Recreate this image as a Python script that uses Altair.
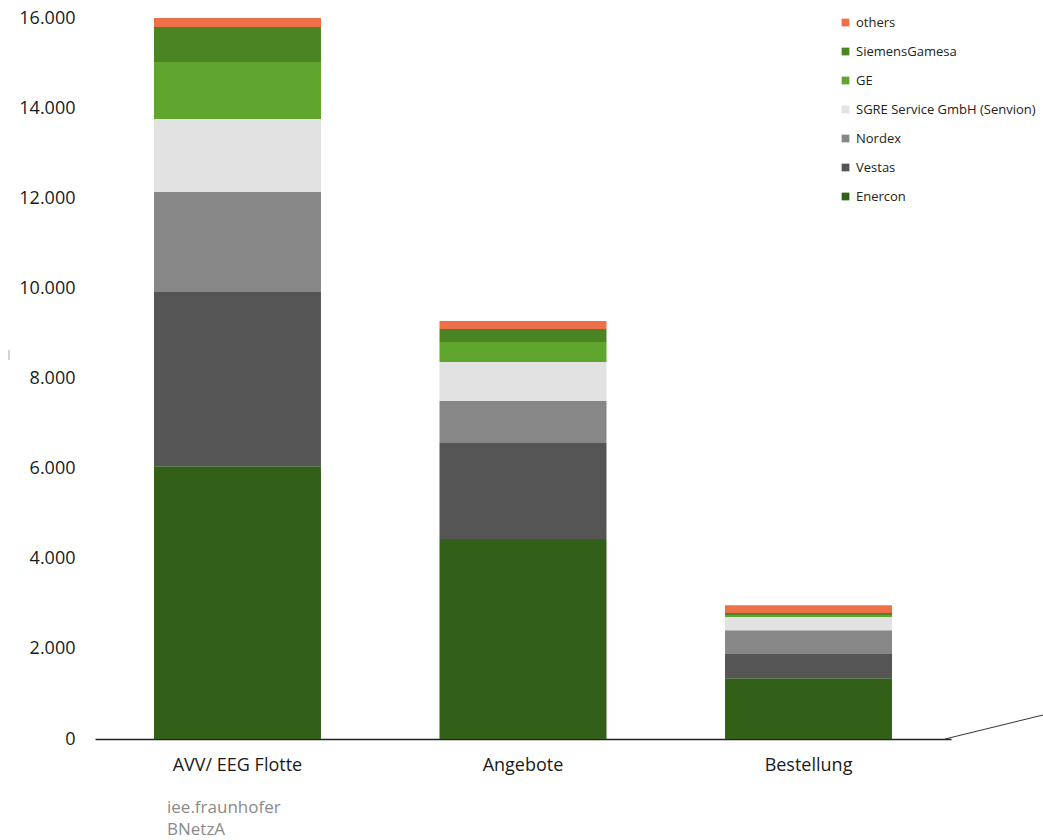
import altair as alt
import pandas as pd

categories = ["AVV/ EEG Flotte", "Angebote", "Bestellung"]
manufacturers = ["Enercon", "Vestas", "Nordex", "SGRE Service GmbH (Senvion)", "GE", "SiemensGamesa", "others"]
colors = ["#336019", "#555555", "#878787", "#E2E2E2", "#5FA52E", "#4A8423", "#ED7048"]
values = {
    "Enercon": [6050, 4440, 1350],
    "Vestas": [3870, 2130, 535],
    "Nordex": [2220, 930, 530],
    "SGRE Service GmbH (Senvion)": [1620, 865, 290],
    "GE": [1265, 445, 30],
    "SiemensGamesa": [775, 290, 60],
    "others": [200, 175, 175],
}
source_lines = ["iee.fraunhofer", "BNetzA"]

rows = []
for i, m in enumerate(manufacturers):
    for c, v in zip(categories, values[m]):
        rows.append({"cat": c, "man": m, "val": v, "ord": i})
df = pd.DataFrame(rows)

legend_order = list(reversed(manufacturers))
legend_colors = list(reversed(colors))

bars = alt.Chart(df).mark_bar(size=167).encode(
    x=alt.X("cat:N", sort=categories, title=None,
            scale=alt.Scale(paddingInner=0.41, paddingOuter=0.204),
            axis=alt.Axis(labelAngle=0, labelFontSize=18, labelColor="#1a1a1a",
                          labelFont="Open Sans", ticks=False, domainColor="#222222",
                          domainWidth=1.5, labelPadding=17)),
    y=alt.Y("val:Q", stack="zero", title=None,
            scale=alt.Scale(domain=[0, 16000], nice=False),
            axis=alt.Axis(values=list(range(0, 16001, 2000)), grid=False, domain=False,
                          ticks=False, labelFontSize=18, labelColor="#1a1a1a",
                          labelFont="Open Sans", labelPadding=20,
                          labelExpr="replace(format(datum.value, ',d'), ',', '.')")),
    color=alt.Color("man:N", scale=alt.Scale(domain=legend_order, range=legend_colors),
                    legend=alt.Legend(title=None, orient="none", legendX=744, legendY=-2,
                                      symbolType="square", symbolSize=60, symbolStrokeWidth=0,
                                      labelFontSize=13, labelFont="Open Sans", labelLimit=400,
                                      labelColor="#222222", rowPadding=15, labelOffset=4)),
    order=alt.Order("ord:Q", sort="ascending"),
)

src_df = pd.DataFrame({"t": source_lines, "i": [0, 1]})
source = alt.Chart(src_df).mark_text(align="left", baseline="middle", fontSize=17,
                                      font="Open Sans", color="#8a8a8a").encode(
    text="t:N",
    x=alt.value(72),
    y=alt.Y("i:Q", scale=alt.Scale(domain=[0, 1], range=[790, 812]), axis=None),
)

diag = alt.Chart(pd.DataFrame({"a": [0]})).mark_rule(color="#333333", strokeWidth=1).encode(
    x=alt.value(850), x2=alt.value(948), y=alt.value(721), y2=alt.value(697))

tick = alt.Chart(pd.DataFrame({"a": [0]})).mark_rule(color="#aaaaaa", strokeWidth=1).encode(
    x=alt.value(-86), y=alt.value(332), y2=alt.value(342))

chart = alt.layer(bars, source, diag, tick).resolve_scale(y="independent").properties(
    width=856, height=721,
    background="white",
    autosize=alt.AutoSizeParams(type="none"),
    padding={"left": 95, "top": 18, "right": 92, "bottom": 101},
).configure_view(strokeWidth=0, stroke="transparent")

chart.save("out.html", embed_options={"renderer": "svg", "actions": False})
